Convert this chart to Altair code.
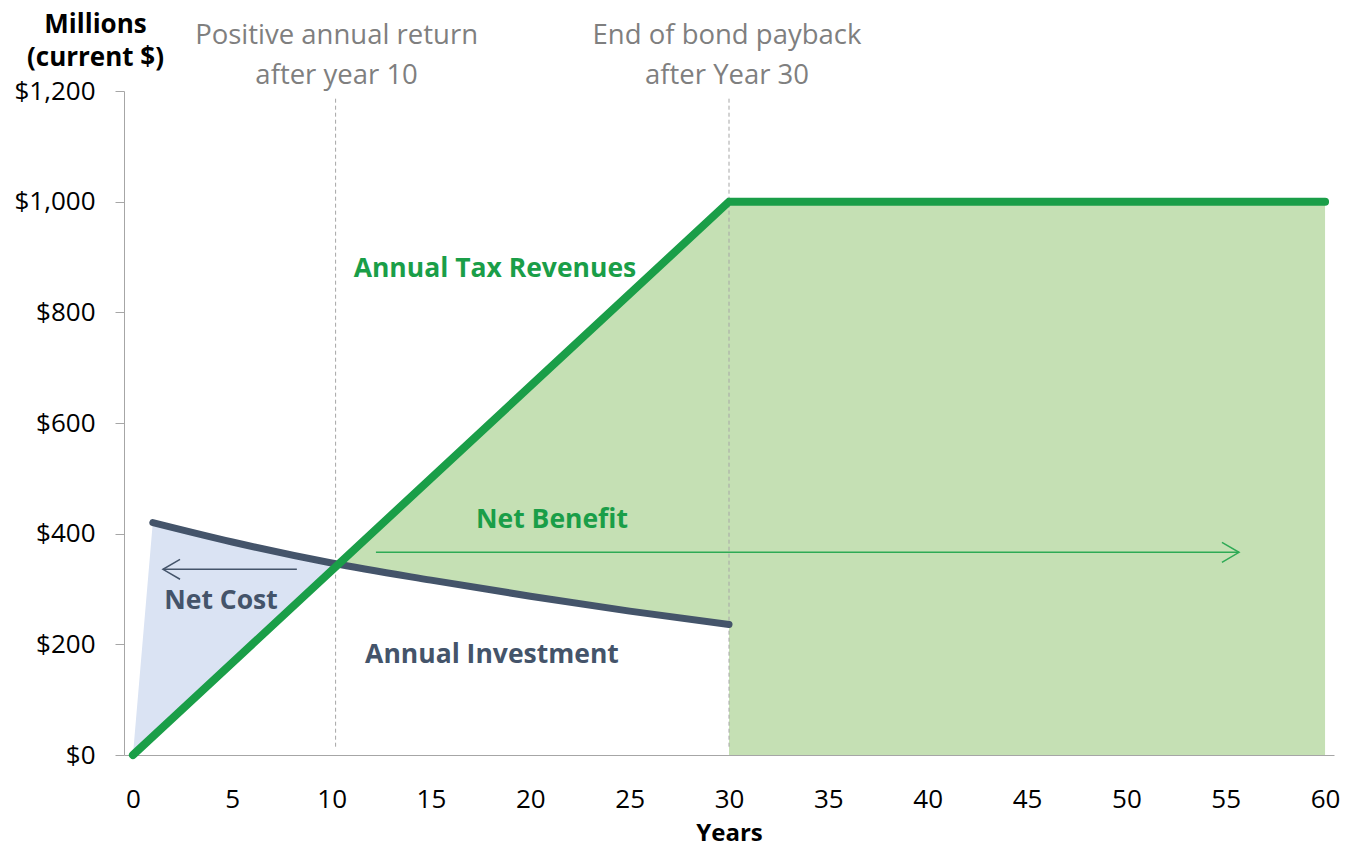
import altair as alt
import pandas as pd

# ---------------- data ----------------
rev_years = [0, 30, 60]
revenue = [0, 1000, 1000]

inv_years = [1, 5, 10, 15, 20, 25, 30]
investment = [420, 385, 347, 316, 287, 260, 236]

# shaded regions
cost_years = [0, 1, 5, 10.3]
cost_top = [0, 420, 385, 343]
cost_bottom = [0, 33, 167, 343]

benefit_years = [10.3, 15, 20, 25, 30]
benefit_top = [343, 500, 667, 833, 1000]
benefit_bottom = [343, 316, 287, 260, 236]

tail_years = [30, 60]
tail_top = [1000, 1000]
tail_bottom = [0, 0]

milestone_years = [10.2, 30]

# annotation texts
note_lines = ["Positive annual return", "after year 10", "End of bond payback", "after Year 30"]
note_x = [10.25, 10.25, 29.9, 29.9]
note_y = [1285, 1213, 1285, 1213]

label_text = ["Annual Tax Revenues", "Net Benefit", "Net Cost", "Annual Investment"]
label_x = [18.22, 21.09, 4.43, 18.07]
label_y = [864, 410, 263, 166]
label_color = ["#1A9E48", "#1A9E48", "#44546A", "#44546A"]

# arrows (polylines)
arrow_seg = ["cost_shaft", "cost_shaft", "cost_head", "cost_head", "cost_head",
             "ben_shaft", "ben_shaft", "ben_head", "ben_head", "ben_head"]
arrow_x = [8.25, 1.51, 2.37, 1.51, 2.37, 12.23, 55.67, 54.81, 55.67, 54.81]
arrow_y = [335.6, 335.6, 353.7, 335.6, 317.6, 366.3, 366.3, 384.3, 366.3, 348.2]
arrow_kind = ["cost"] * 5 + ["ben"] * 5

x_ticks = list(range(0, 61, 5))
y_ticks = [0, 200, 400, 600, 800, 1000, 1200]

FONT = "Open Sans"
GREEN = "#1A9E48"
SLATE = "#44546A"

# ---------------- frames ----------------
rev_df = pd.DataFrame({"year": rev_years, "value": revenue})
inv_df = pd.DataFrame({"year": inv_years, "value": investment})

area_df = pd.concat([
    pd.DataFrame({"year": cost_years, "top": cost_top, "bottom": cost_bottom, "part": "cost"}),
    pd.DataFrame({"year": benefit_years, "top": benefit_top, "bottom": benefit_bottom, "part": "benefit"}),
    pd.DataFrame({"year": tail_years, "top": tail_top, "bottom": tail_bottom, "part": "tail"}),
], ignore_index=True)

rule_df = pd.DataFrame({"year": milestone_years, "y1": [15, 15], "y2": [1188, 1188]})
note_df = pd.DataFrame({"text": note_lines, "year": note_x, "value": note_y})
label_df = pd.DataFrame({"text": label_text, "year": label_x, "value": label_y, "color": label_color})
arrow_df = pd.DataFrame({"seg": arrow_seg, "year": arrow_x, "value": arrow_y,
                         "kind": arrow_kind, "order": list(range(len(arrow_x)))})

xscale = alt.Scale(domain=[-0.45, 60.45], nice=False, zero=False)
yscale = alt.Scale(domain=[0, 1200], nice=False)

x_axis = alt.Axis(values=x_ticks, ticks=False, tickSize=0, grid=False, domainColor="#A6A6A6",
                  labelFont=FONT, labelFontSize=26, labelColor="#000000",
                  labelBaseline="alphabetic", labelPadding=52, labelFlush=False,
                  title="Years", titleFont=FONT, titleFontSize=24, titleFontWeight="bold",
                  titleColor="#000000", titleBaseline="alphabetic", titleY=85)
y_axis = alt.Axis(values=y_ticks, format="$,d", grid=False, domainColor="#A6A6A6",
                  tickColor="#A6A6A6", tickSize=9, labelPadding=20,
                  labelFont=FONT, labelFontSize=26, labelColor="#000000",
                  title=["Millions", "(current $)"], titleAngle=0, titleAlign="center",
                  titleBaseline="alphabetic", titleX=-29, titleY=-59, titleLineHeight=33,
                  titleFont=FONT, titleFontSize=26, titleFontWeight="bold", titleColor="#000000")

base_x = alt.X("year:Q", scale=xscale, axis=x_axis)

areas = alt.Chart(area_df).mark_area(opacity=1).encode(
    x=base_x,
    y=alt.Y("top:Q", scale=yscale, axis=y_axis),
    y2="bottom:Q",
    color=alt.Color("part:N", scale=alt.Scale(domain=["cost", "benefit", "tail"],
                                              range=["#DAE3F3", "#C5E0B4", "#C5E0B4"]), legend=None),
    detail="part:N",
)

rules = alt.Chart(rule_df).mark_rule(color="#A6A6A6", strokeDash=[4, 3], strokeWidth=1).encode(
    x=alt.X("year:Q", scale=xscale), y=alt.Y("y1:Q", scale=yscale), y2="y2:Q")

inv_line = alt.Chart(inv_df).mark_line(color=SLATE, strokeWidth=7, strokeCap="round", interpolate="monotone").encode(
    x=alt.X("year:Q", scale=xscale), y=alt.Y("value:Q", scale=yscale))

rev_line = alt.Chart(rev_df).mark_line(color=GREEN, strokeWidth=8, strokeCap="round", strokeJoin="miter").encode(
    x=alt.X("year:Q", scale=xscale), y=alt.Y("value:Q", scale=yscale))

arrows = alt.Chart(arrow_df).mark_line(strokeWidth=1.5).encode(
    x=alt.X("year:Q", scale=xscale), y=alt.Y("value:Q", scale=yscale),
    detail="seg:N", order="order:Q",
    color=alt.Color("kind:N", scale=alt.Scale(domain=["cost", "ben"], range=[SLATE, "#2EAA55"]), legend=None),
)

notes = alt.Chart(note_df).mark_text(font=FONT, fontSize=27.5, color="#7F7F7F", align="center",
                                     baseline="alphabetic").encode(
    x=alt.X("year:Q", scale=xscale), y=alt.Y("value:Q", scale=yscale), text="text:N")

labels = alt.Chart(label_df).mark_text(font=FONT, fontSize=26.5, fontWeight="bold", align="center",
                                       baseline="alphabetic").encode(
    x=alt.X("year:Q", scale=xscale), y=alt.Y("value:Q", scale=yscale), text="text:N",
    color=alt.Color("color:N", scale=None))

chart = alt.layer(areas, rules, inv_line, rev_line, arrows, notes, labels).properties(
    width=1210, height=664,
    autosize=alt.AutoSizeParams(type="none"),
    padding={"left": 116, "top": 83, "right": 20, "bottom": 91},
).configure_view(stroke=None).resolve_scale(color="independent")

chart.save("out.html", embed_options={"renderer": "svg", "actions": False})
